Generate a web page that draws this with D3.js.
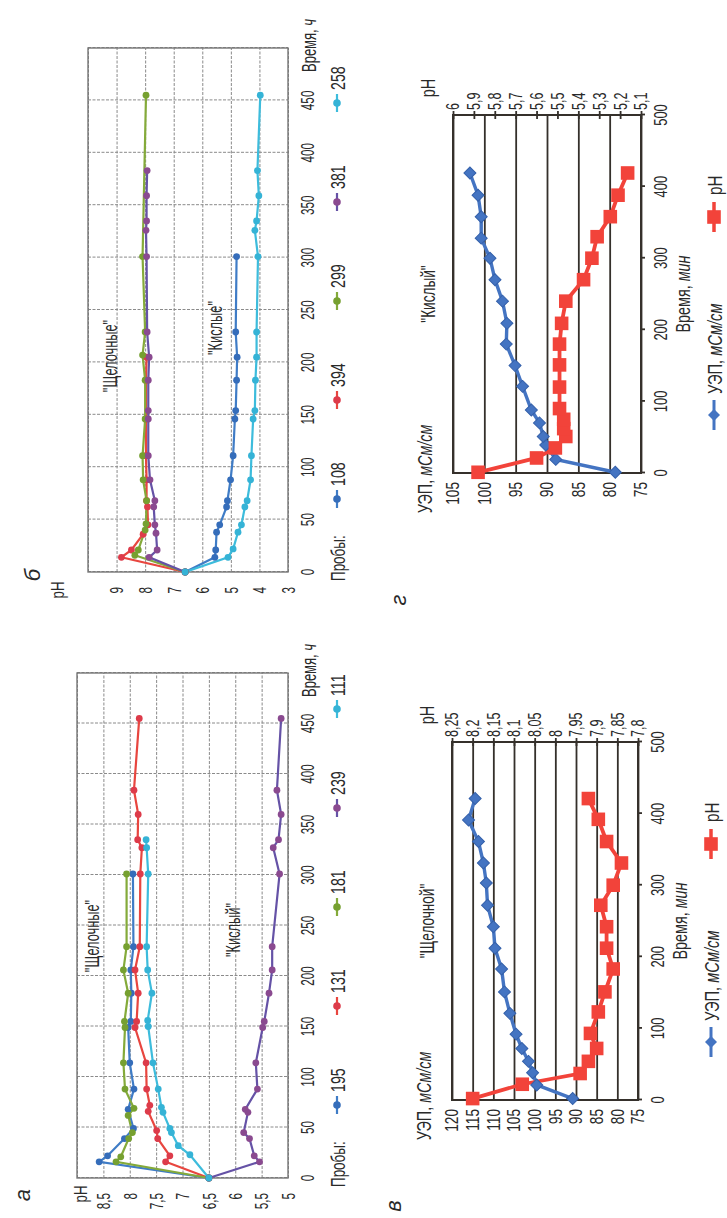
<!DOCTYPE html>
<html>
<head>
<meta charset="utf-8">
<script src="https://cdn.jsdelivr.net/npm/d3@7"></script>
<style>
body { margin: 0; background: #fff; }
text { font-family: "Liberation Sans", Arial, sans-serif; fill: #2a2a2a; }
</style>
</head>
<body>
<svg id="fig" width="727" height="1218"></svg>
<script>
// ---- data ----
var timeTicks = [0, 50, 100, 150, 200, 250, 300, 350, 400, 450, 500]
var minTicks = [0, 100, 200, 300, 400, 500]

// panel a: pH, "Щелочные" / "Кислый"
var aNames = ["195", "131", "181", "239", "111"]
var a195 = [[0,6.5],[16,8.58],[22,8.42],[39,8.1],[49,7.93],[68,8.03],[88,7.92],[114,8.0],[149,8.03],[155,7.98],[183,7.97],[206,7.98],[229,7.93],[301,7.94]]
var a131 = [[0,6.5],[16,7.32],[22,7.24],[39,7.47],[47,7.49],[66,7.65],[72,7.62],[88,7.68],[114,7.69],[149,7.9],[155,7.87],[183,7.84],[206,7.9],[229,7.81],[301,7.8],[327,7.77],[335,7.85],[360,7.84],[384,7.92],[455,7.82]]
var a181 = [[0,6.5],[16,8.26],[21,8.17],[39,8.02],[45,7.95],[62,8.03],[69,7.92],[88,8.09],[114,8.12],[149,8.09],[155,8.1],[183,8.03],[206,8.12],[229,8.06],[301,8.06]]
var a239 = [[0,6.5],[16,5.54],[22,5.64],[39,5.73],[45,5.84],[65,5.76],[68,5.81],[88,5.58],[114,5.61],[149,5.48],[155,5.45],[183,5.36],[206,5.3],[229,5.3],[301,5.16],[327,5.28],[335,5.18],[360,5.13],[384,5.21],[455,5.13]]
var a111 = [[0,6.5],[23,6.86],[32,7.08],[45,7.21],[49,7.24],[65,7.37],[70,7.4],[88,7.46],[114,7.56],[150,7.65],[156,7.66],[183,7.58],[206,7.66],[229,7.68],[301,7.65],[327,7.68],[335,7.69]]
var aYTicks = [5, 5.5, 6, 6.5, 7, 7.5, 8, 8.5, 9]
var aYLabels = [5, 5.5, 6, 6.5, 7, 7.5, 8, 8.5]

// panel b
var bNames = ["108", "394", "299", "381", "258"]
var b108 = [[0,6.6],[14,5.56],[21,5.53],[38,5.5],[45,5.39],[62,5.15],[68,5.12],[88,5.01],[111,4.92],[146,4.86],[154,4.83],[183,4.8],[205,4.78],[229,4.83],[301,4.8]]
var b394 = [[0,6.6],[14,8.83],[21,8.48],[36,8.07],[45,7.9],[62,7.92],[68,7.95],[88,7.95],[111,7.97],[146,7.97],[183,7.97],[205,7.95]]
var b299 = [[0,6.6],[16,8.36],[21,8.24],[40,8.0],[46,7.97],[68,7.95],[88,8.07],[111,8.09],[146,8.0],[183,8.0],[207,8.09],[229,8.0],[301,8.09],[455,7.97]]
var b381 = [[0,6.6],[14,7.86],[21,7.58],[37,7.62],[45,7.66],[62,7.7],[68,7.66],[88,7.83],[111,7.89],[146,7.89],[154,7.89],[183,7.89],[205,7.86],[229,7.93],[301,7.95],[326,7.97],[335,7.95],[359,7.95],[383,7.93]]
var b258 = [[0,6.6],[14,5.1],[22,4.92],[38,4.75],[45,4.63],[62,4.51],[68,4.43],[88,4.31],[111,4.28],[146,4.22],[154,4.16],[183,4.14],[205,4.1],[229,4.1],[301,4.05],[326,4.16],[335,4.1],[359,4.02],[383,4.07],[455,3.97]]
var bYTicks = [3, 4, 5, 6, 7, 8, 9, 10]
var bYLabels = [3, 4, 5, 6, 7, 8, 9]

var seriesColors = ["#3f7cc6", "#e8463f", "#84aa3a", "#6552a6", "#3dbcdc"]
var markerColors = ["#356dba", "#dd3b4a", "#76a030", "#8a4a90", "#35b3d6"]

// panel v: "Щелочной"
var vTime = [2,21,38,54,72,92,121,151,183,212,242,272,303,331,361,391,421]
var vCond = [90.8,99.5,100.5,101.5,103.1,104.5,106,107.3,108,109.6,110,111.4,111.7,112.4,113.6,116,114.4]
var vTimePH = [2,22,37,54,72,93,123,151,183,212,242,272,300,331,361,392,421]
var vPH = [8.2,8.08,7.94,7.92,7.9,7.915,7.896,7.88,7.86,7.876,7.876,7.89,7.86,7.84,7.876,7.896,7.92]
var vLeftTicks = [75, 80, 85, 90, 95, 100, 105, 110, 115, 120]
var vRightTicks = [7.8, 7.85, 7.9, 7.95, 8, 8.05, 8.1, 8.15, 8.2, 8.25]

// panel g: "Кислый"
var gTime = [1,19,39,51,70,88,121,150,180,209,240,270,300,328,358,388,419]
var gCond = [79.1,88.6,90.2,90.6,91.2,92.5,93.9,95.1,96.5,96.4,97.1,98.3,99.1,100.5,100.5,101,102.3]
var gTimePH = [1,21,35,51,62,75,90,120,151,180,209,240,270,300,330,358,388,419]
var gPH = [5.88,5.6,5.51,5.46,5.47,5.47,5.49,5.49,5.49,5.49,5.48,5.46,5.375,5.335,5.31,5.247,5.21,5.164]
var gLeftTicks = [75, 80, 85, 90, 95, 100, 105]
var gRightTicks = [5.1, 5.2, 5.3, 5.4, 5.5, 5.6, 5.7, 5.8, 5.9, 6]

// ---- drawing ----
var svg = d3.select("#fig")
// whole figure is printed turned a quarter turn anticlockwise
var root = svg.append("g").attr("transform", "translate(0,1218) rotate(-90)")

var comma = function(d) { return (+d.toFixed(2)).toString().replace(".", ",") }

function label(g, x, y, s, size, anchor, sx) {
  return g.append("text")
    .attr("transform", "translate(" + x + "," + y + ") scale(" + sx + ",1)")
    .attr("text-anchor", anchor)
    .attr("dy", "0.36em")
    .style("font-size", size + "px")
    .text(s)
}

function pHPanel(cfg) {
  var g = root.append("g")
  var x = d3.scaleLinear().domain([0, 500]).range([cfg.u0, cfg.u1])
  var y = d3.scaleLinear().domain(cfg.yDom).range([cfg.vBot, cfg.vTop])
  var w = cfg.u1 - cfg.u0, h = cfg.vBot - cfg.vTop

  g.append("g").attr("transform", "translate(0," + cfg.vTop + ")")
   .call(d3.axisBottom(x).tickValues(timeTicks).tickSize(h).tickFormat(""))
  g.append("g").attr("transform", "translate(" + cfg.u0 + ",0)")
   .call(d3.axisRight(y).tickValues(cfg.yTicks).tickSize(w).tickFormat(""))
  g.selectAll(".domain").remove()
  g.selectAll(".tick line")
   .attr("stroke", "#8a8a8a")
   .attr("stroke-width", 1)
   .attr("stroke-dasharray", "3,1.5")
  g.append("rect")
   .attr("x", cfg.u0).attr("y", cfg.vTop).attr("width", w).attr("height", h)
   .attr("fill", "none").attr("stroke", "#777").attr("stroke-width", 1.4)

  timeTicks.slice(0, -1).forEach(function(t) {
    label(g, x(t), cfg.vBot + 19, t, 19, "middle", 0.62)
  })
  cfg.yLabels.forEach(function(p) {
    label(g, cfg.u0 - 15, y(p), comma(p), 19, "end", 0.62)
  })
  label(g, cfg.pHu, cfg.pHv, "pH", 19, "middle", 0.7)
  var tl = label(g, x(500) - 24, cfg.vBot + 21, "", 20, "start", 0.65)
  tl.append("tspan").text("Время, ")
  tl.append("tspan").style("font-style", "italic").text("ч")

  var line = d3.line().x(function(d) { return x(d[0]) }).y(function(d) { return y(d[1]) })
  cfg.series.forEach(function(s, i) {
    g.append("path").datum(s).attr("d", line)
     .attr("fill", "none").attr("stroke", seriesColors[i]).attr("stroke-width", 2.2)
  })
  cfg.series.forEach(function(s, i) {
    g.selectAll(null).data(s).enter().append("circle")
     .attr("cx", function(d) { return x(d[0]) })
     .attr("cy", function(d) { return y(d[1]) })
     .attr("r", 3.4)
     .attr("fill", markerColors[i])
  })

  // legend
  var lv = cfg.vBot + 49
  label(g, cfg.u0 - 9, lv, "Пробы:", 21, "start", 0.64)
  cfg.names.forEach(function(n, i) {
    var c = cfg.u0 + 73 + i * 99
    g.append("line").attr("x1", c - 9).attr("x2", c + 9).attr("y1", lv).attr("y2", lv)
     .attr("stroke", seriesColors[i]).attr("stroke-width", 2.2)
    g.append("circle").attr("cx", c).attr("cy", lv).attr("r", 3.8).attr("fill", markerColors[i])
    label(g, c + 13, lv, n, 21, "start", 0.68)
  })

  cfg.notes.forEach(function(n) { label(g, n[0], n[1], n[2], 20, "middle", 0.64) })
  g.append("text").attr("x", cfg.letter[0]).attr("y", cfg.letter[1]).attr("dy", "0.35em")
   .attr("text-anchor", "middle").style("font-size", "22px").style("font-style", "italic")
   .text(cfg.letter[2])
}

function condPanel(cfg) {
  var g = root.append("g")
  var x = d3.scaleLinear().domain([0, 500]).range([cfg.u0, cfg.u1])
  var yL = d3.scaleLinear().domain(d3.extent(cfg.leftTicks)).range([cfg.vBot, cfg.vTop])
  var yR = d3.scaleLinear().domain(d3.extent(cfg.rightTicks)).range([cfg.vBot, cfg.vTop])
  var w = cfg.u1 - cfg.u0, h = cfg.vBot - cfg.vTop
  var ink = "#35302b"

  g.append("g").attr("transform", "translate(" + cfg.u0 + ",0)")
   .call(d3.axisRight(yL).tickValues(cfg.leftTicks).tickSize(w).tickFormat(""))
  g.append("g").attr("transform", "translate(" + (cfg.u1 - 4) + ",0)")
   .call(d3.axisRight(yR).tickValues(cfg.rightTicks).tickSize(8).tickFormat(""))
  g.append("g").attr("transform", "translate(0," + cfg.vBot + ")")
   .call(d3.axisBottom(x).tickValues(minTicks).tickSize(4).tickFormat(""))
  g.selectAll(".domain").remove()
  g.selectAll(".tick line").attr("stroke", ink).attr("stroke-width", 1.8)
  g.append("rect")
   .attr("x", cfg.u0).attr("y", cfg.vTop).attr("width", w).attr("height", h)
   .attr("fill", "none").attr("stroke", ink).attr("stroke-width", 2)

  cfg.leftTicks.forEach(function(d) { label(g, cfg.u0 - 9, yL(d), d, 18, "end", 0.76) })
  cfg.rightTicks.forEach(function(d) { label(g, cfg.u1 + 5, yR(d), comma(d), 18, "start", 0.7) })
  minTicks.forEach(function(t) { label(g, x(t), cfg.vBot + 20, t, 18, "middle", 0.72) })

  var t1 = label(g, cfg.u0 + 4, cfg.vTop - 28, "УЭП, ", 20, "middle", 0.72)
  t1.append("tspan").style("font-style", "italic").text("мСм/см")
  label(g, cfg.u1 + 27, cfg.vTop - 25, "pH", 20, "middle", 0.72)
  label(g, (cfg.u0 + cfg.u1) / 2, cfg.vTop - 25, cfg.title, 20, "middle", 0.68)
  var t2 = label(g, (cfg.u0 + cfg.u1) / 2, cfg.vBot + 42, "Время, ", 20, "middle", 0.72)
  t2.append("tspan").style("font-style", "italic").text("мин")

  var blue = "#4474c2", red = "#f2433a"
  var condPts = cfg.time.map(function(t, i) { return [t, cfg.cond[i]] })
  var phPts = cfg.timePH.map(function(t, i) { return [t, cfg.ph[i]] })
  g.append("path").datum(condPts)
   .attr("d", d3.line().x(function(d) { return x(d[0]) }).y(function(d) { return yL(d[1]) }))
   .attr("fill", "none").attr("stroke", blue).attr("stroke-width", 3.4)
  g.append("path").datum(phPts)
   .attr("d", d3.line().x(function(d) { return x(d[0]) }).y(function(d) { return yR(d[1]) }))
   .attr("fill", "none").attr("stroke", red).attr("stroke-width", 3.8)
  var diamond = d3.symbol(d3.symbolSquare, 72)
  var square = d3.symbol(d3.symbolSquare, 185)
  g.selectAll(null).data(condPts).enter().append("path")
   .attr("d", diamond)
   .attr("transform", function(d) { return "translate(" + x(d[0]) + "," + yL(d[1]) + ") rotate(45)" })
   .attr("fill", blue).attr("stroke", "#3460aa").attr("stroke-width", 1)
  g.selectAll(null).data(phPts).enter().append("path")
   .attr("d", square)
   .attr("transform", function(d) { return "translate(" + x(d[0]) + "," + yR(d[1]) + ")" })
   .attr("fill", red)

  // legend
  var lv = cfg.vBot + 73
  var c1 = cfg.u0 + 58, c2 = cfg.u0 + 256
  g.append("line").attr("x1", c1 - 15).attr("x2", c1 + 15).attr("y1", lv).attr("y2", lv)
   .attr("stroke", blue).attr("stroke-width", 3)
  g.append("path").attr("d", diamond).attr("transform", "translate(" + c1 + "," + lv + ") rotate(45)")
   .attr("fill", blue)
  var t3 = label(g, c1 + 21, lv, "УЭП, ", 21, "start", 0.7)
  t3.append("tspan").style("font-style", "italic").text("мСм/см")
  g.append("line").attr("x1", c2 - 15).attr("x2", c2 + 15).attr("y1", lv).attr("y2", lv)
   .attr("stroke", red).attr("stroke-width", 3.5)
  g.append("path").attr("d", square).attr("transform", "translate(" + c2 + "," + lv + ")")
   .attr("fill", red)
  label(g, c2 + 22, lv, "pH", 21, "start", 0.72)

  g.append("text").attr("x", cfg.letter[0]).attr("y", cfg.letter[1]).attr("dy", "0.35em")
   .attr("text-anchor", "middle").style("font-size", "22px").style("font-style", "italic")
   .text(cfg.letter[2])
}

pHPanel({
  u0: 40, u1: 545, vTop: 77, vBot: 288, yDom: [5, 9],
  yTicks: aYTicks, yLabels: aYLabels,
  series: [a195, a131, a181, a239, a111], names: aNames,
  pHu: 24, pHv: 80,
  notes: [[282, 92, "\"Щелочные\""], [288, 233, "\"Кислый\""]],
  letter: [23, 22, "а"]
})
pHPanel({
  u0: 646, u1: 1170, vTop: 88, vBot: 288, yDom: [3, 10],
  yTicks: bYTicks, yLabels: bYLabels,
  series: [b108, b394, b299, b381, b258], names: bNames,
  pHu: 628, pHv: 57,
  notes: [[862, 110, "\"Щелочные\""], [890, 215, "\"Кислые\""]],
  letter: [643, 32, "б"]
})
condPanel({
  u0: 118, u1: 476, vTop: 452, vBot: 638,
  leftTicks: vLeftTicks, rightTicks: vRightTicks,
  time: vTime, cond: vCond, timePH: vTimePH, ph: vPH,
  title: "\"Щелочной\"", letter: [12, 393, "в"]
})
condPanel({
  u0: 745, u1: 1103, vTop: 453, vBot: 641,
  leftTicks: gLeftTicks, rightTicks: gRightTicks,
  time: gTime, cond: gCond, timePH: gTimePH, ph: gPH,
  title: "\"Кислый\"", letter: [618, 398, "г"]
})
</script>
</body>
</html>
